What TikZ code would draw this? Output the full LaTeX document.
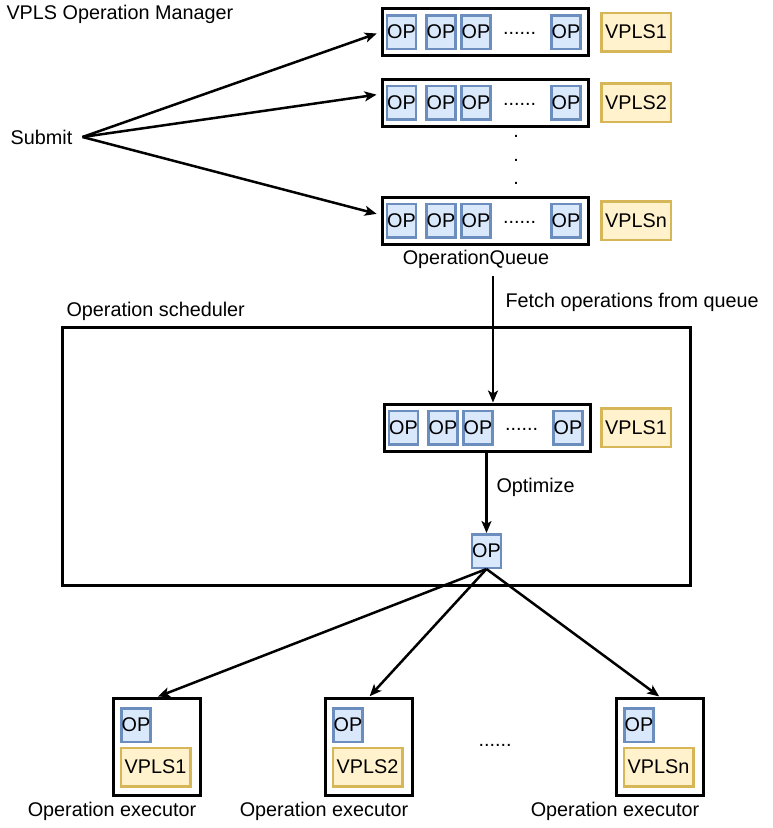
\documentclass[tikz,border=0pt]{standalone}
\usepackage{fontspec}
\setmainfont{Liberation Sans}
\usetikzlibrary{arrows.meta}
\definecolor{opfill}{HTML}{DAE8FC}
\definecolor{opline}{HTML}{6C8EBF}
\definecolor{vplsfill}{HTML}{FFF2CC}
\definecolor{vplsline}{HTML}{D6B656}
\begin{document}
\begin{tikzpicture}[x=1pt,y=-1pt,
    font=\fontsize{19.8pt}{24pt}\selectfont,
    >={Stealth[length=12pt,width=10pt,inset=3pt]},
    op/.style={draw=opline,fill=opfill,line width=2.5pt,inner sep=0pt,minimum width=28.5pt,minimum height=33.5pt},
    vpls/.style={draw=vplsline,fill=vplsfill,line width=2.5pt,inner sep=0pt,minimum width=69.5pt,minimum height=38.5pt},
    queuebox/.style={draw,line width=3pt,inner sep=0pt,minimum width=206pt,minimum height=47pt},
    execbox/.style={draw,line width=3pt,inner sep=0pt,minimum width=87pt,minimum height=97pt},
    flow/.style={->,line width=2.5pt}]
    \useasboundingbox (0,0) rectangle (772,828);
    \node[anchor=west] (manager) at (3,14) {VPLS Operation Manager};
    \node[inner xsep=10pt] (submit) at (41.5,137) {Submit};
    % queues, the last one sits in the scheduler
    \foreach \y/\q/\v/\dx in {32/q1/1/0, 102.5/q2/2/0, 220.5/qn/n/0, 427.5/sq/1/2}{
        \node[queuebox] (\q) at (485.5+\dx,\y) {};
        \node[op] (\q-a) at (401.5+\dx,\y) {OP};
        \node[op] (\q-b) at (441+\dx,\y) {OP};
        \node[op] (\q-c) at (476+\dx,\y) {OP};
        \node[inner sep=0pt] (\q-dots) at (519.5+\dx,\y+1.5) {......};
        \node[op] (\q-d) at (566+\dx,\y) {OP};
        \node[vpls] (\q-vpls) at (636,\y) {VPLS\v};
    }
    \foreach \y [count=\i] in {136,160,183}
        \node[inner sep=0pt] (vdot\i) at (516,\y) {.};
    \node (qlabel) at (476,259) {OperationQueue};
    \draw[flow,shorten >=4.5pt] (submit.east) -- (q1.west);
    \draw[flow,shorten >=4.5pt] (submit.east) -- ([yshift=8.5pt]q2.west);
    \draw[flow,shorten >=4.5pt] (submit.east) -- ([yshift=5.5pt]qn.west);
    % scheduler
    \draw[line width=3pt] (62.5,327.5) rectangle (690.5,585.5);
    \node[anchor=west] (schedlabel) at (63,311) {Operation scheduler};
    \coordinate (fetch) at (493,276);
    \node[anchor=west] (fetchlabel) at (502,302) {Fetch operations from queue};
    \draw[flow] (fetch) -- (fetch |- sq.north);
    \node[op] (sop) at (486.5,551) {OP};
    \node[anchor=west] (optlabel) at (493,487) {Optimize};
    \draw[flow] (sop.north |- sq.south) -- (sop.north);
    % executors
    \foreach \cx/\v in {157/1, 369/2, 660/n}{
        \node[execbox] (e\v) at (\cx,747) {};
        \node[op] (e\v-op) at (\cx-21,725) {OP};
        \node[vpls] (e\v-vpls) at (\cx-1.5,767) {VPLS\v};
        \node (e\v-label) at (\cx-45,811) {Operation executor};
        \draw[flow,shorten >=1pt] (sop.south) -- (e\v.north);
    }
    \node[inner sep=0pt] (edots) at (495,745) {......};
\end{tikzpicture}
\end{document}
